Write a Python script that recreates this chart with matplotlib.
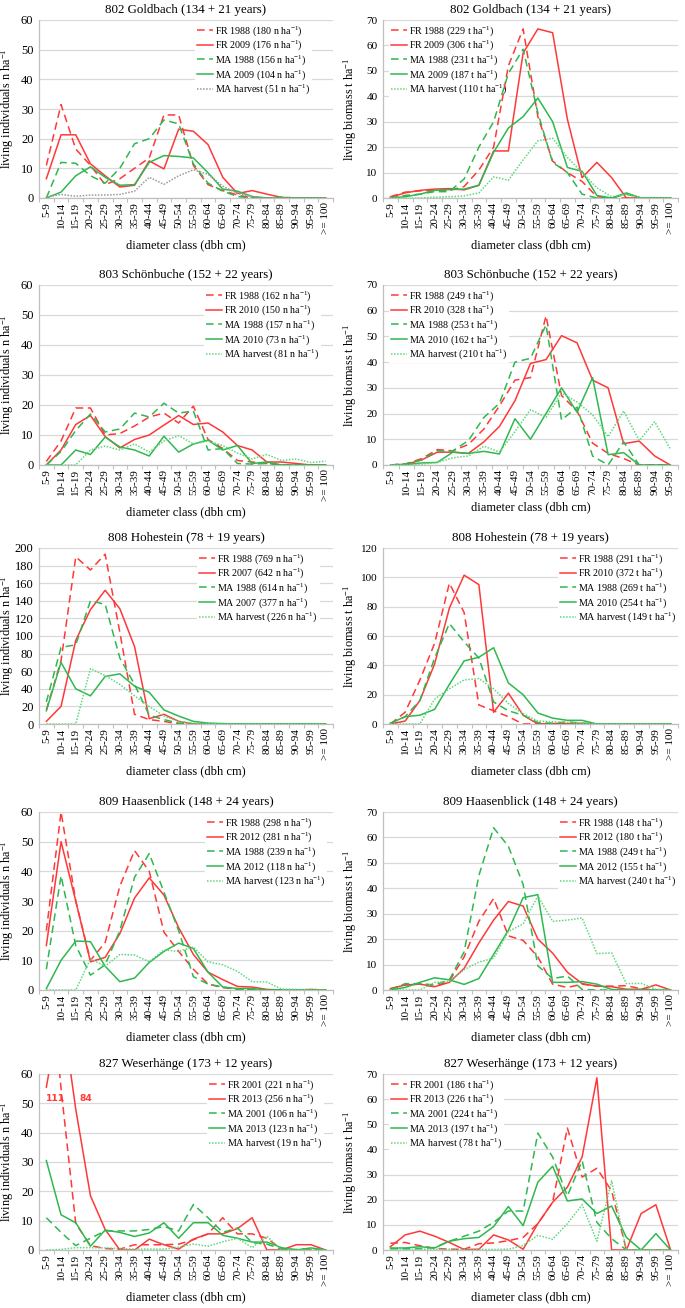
import matplotlib
matplotlib.use("Agg")
import matplotlib.pyplot as plt
import numpy as np

plt.rcParams['font.family'] = ['Liberation Serif', 'DejaVu Serif']
plt.rcParams['mathtext.default'] = 'regular'

classes = ["5-9", "10-14", "15-19", "20-24", "25-29", "30-34", "35-39", "40-44", "45-49",
           "50-54", "55-59", "60-64", "65-69", "70-74", "75-79", "80-84", "85-89", "90-94",
           "95-99", ">= 100"]
classes_803b = classes[:19]

# ---- 802 Goldbach ----
gb_n_fr_a = [11, 31.5, 16.5, 11, 4.5, 6.5, 10, 13.5, 28, 28, 11, 4.5, 2.5, 1, 0, 0, 0, 0, 0, 0]
gb_n_fr_b = [6.5, 21.3, 21.3, 11.5, 7.5, 3.7, 4.3, 12.5, 9.8, 23.2, 22.5, 18, 7, 1.5, 2.5, 1.3, 0.2, 0, 0, 0]
gb_n_ma_a = [0, 12, 11.7, 7.5, 5, 10, 18.3, 20, 26.3, 25, 11.5, 5, 2.3, 0.5, 0, 0, 0.3, 0, 0, 0]
gb_n_ma_b = [0, 2, 7.5, 10.5, 7, 4.3, 4.5, 12, 14.3, 14, 13.5, 8.5, 3, 2.3, 0.5, 0, 0, 0, 0, 0]
gb_n_ma_h = [0.3, 1.2, 0.6, 1, 1, 1.2, 2.3, 7, 4.6, 7.5, 9.5, 8, 4, 1.5, 0.5, 0, 0, 0, 0, 0]

gb_b_fr_a = [0.5, 2.3, 2.8, 3, 3, 4.5, 11, 20, 52, 66.5, 32, 14.5, 10, 6.5, 0.5, 0, 0, 0, 0, 0]
gb_b_fr_b = [0.3, 2, 3, 3.5, 3.7, 3.2, 5, 18.5, 18.5, 57, 66.5, 65, 31, 8, 14, 8, 0, 0, 0, 0]
gb_b_ma_a = [0, 1, 1.5, 2.5, 2.5, 7.5, 20, 30, 49, 58.5, 33.5, 14, 10, 1.5, 0, 0, 1.5, 0, 0, 0]
gb_b_ma_b = [0, 0.5, 1.5, 3, 3.3, 3.5, 5, 18, 27.5, 32, 39.3, 30, 12, 10.5, 1, 0, 2, 0, 0, 0]
gb_b_ma_h = [0, 0, 0, 0.3, 0.5, 0.8, 2, 8.3, 7, 15, 22.5, 23.5, 16, 10, 4, 0.5, 1.5, 0, 0, 0]

# ---- 803 Schönbuche ----
sb_n_fr_a = [1.2, 8, 19, 19, 10, 10.5, 13, 16, 17.3, 14, 19.6, 8.5, 5.5, 1.5, 1, 0.5, 0, 0, 0, 0]
sb_n_fr_b = [0, 5, 13.5, 16.5, 9.5, 5.7, 8.5, 10, 13.3, 16.5, 13.5, 14, 11, 6.5, 5, 1, 1, 0.5, 0, 0]
sb_n_ma_a = [0, 4.5, 11.5, 17, 11, 12, 17.3, 16, 20.6, 17.3, 18, 5, 5.5, 0.5, 0.3, 0.5, 0, 0, 0, 0]
sb_n_ma_b = [0, 0, 5, 3.5, 9.3, 6, 5, 3, 9.6, 4.3, 7, 8.3, 5, 6.5, 0.5, 1, 0, 0, 0, 0]
sb_n_ma_h = [0, 0, 0, 5, 6.3, 5, 7, 4.3, 8, 9.8, 7, 8, 6.5, 4, 2, 3.5, 1.5, 2, 0.8, 1.3]

sb_b_fr_a = [0, 0.5, 2.5, 6, 5.5, 8, 14, 23, 33, 34, 58, 27, 21, 8.5, 4.5, 2.5, 0, 0, 0]
sb_b_fr_b = [0, 0.3, 2, 5, 5, 4.5, 9, 15, 25, 39.5, 41, 50.3, 47.5, 33, 30, 8.3, 9.3, 3.5, 0]
sb_b_ma_a = [0, 0.5, 2, 5.5, 5.5, 9.5, 18.5, 24, 40, 41.5, 54.5, 17.5, 22.5, 3.5, 0, 9, 0, 0, 0]
sb_b_ma_b = [0, 0.2, 0.8, 1, 5, 4.5, 5.3, 4.3, 18, 10, 20, 30, 20.5, 34, 4, 4.8, 0, 0, 0]
sb_b_ma_h = [0, 0, 0.3, 1, 2.8, 3.5, 7.3, 5, 13, 21.5, 18.5, 28, 24.5, 19.5, 11, 21, 9.5, 16.8, 6.3]

# ---- 808 Hohestein ----
hs_n_fr_a = [16, 72, 190, 175, 193, 104, 11, 5, 3, 0, 0, 0, 0, 0, 0, 0, 0, 0, 0, 0]
hs_n_fr_b = [3, 20, 95, 130, 152, 131, 88, 6, 11, 3, 0, 0, 0, 0, 0, 0, 0, 0, 0, 0]
hs_n_ma_a = [25, 87, 90, 140, 136, 75, 45, 10, 5, 1, 0, 0, 0, 0, 0, 0, 0, 0, 0, 0]
hs_n_ma_b = [15, 70, 40, 32, 54, 57, 43, 36, 16, 9, 3, 1, 0.5, 0, 0, 0, 0, 0, 0, 0]
hs_n_ma_h = [0, 0, 0, 63, 55, 45, 32, 20, 9, 3, 1, 0.5, 0, 0, 0, 0, 0, 0, 0, 0]

hs_b_fr_a = [0, 8, 30, 55, 96, 76, 13, 9, 5, 0, 0, 0, 0, 0, 0, 0, 0, 0, 0, 0]
hs_b_fr_b = [0, 2, 16, 41, 79, 101.5, 95, 8, 21, 6, 0, 0.3, 0.2, 0.5, 0, 0, 0, 0, 0, 0]
hs_b_ma_a = [0.5, 5, 16, 45, 68.5, 56, 45, 15, 9, 6, 1, 0.5, 1.5, 0.5, 0, 0, 0, 0, 0, 0]
hs_b_ma_b = [0.5, 5, 6, 10, 27, 43, 45.5, 52, 28, 20, 7.5, 4, 2.5, 2.5, 0, 0, 0, 0, 0, 0]
hs_b_ma_h = [0, 0, 0, 17, 24, 30, 31, 24, 14, 7, 2, 1.5, 1, 0.5, 0, 0, 0, 0, 0, 0]

# ---- 809 Haasenblick ----
hb_n_fr_a = [20, 60, 30, 10, 16, 35, 47, 40, 19.5, 13, 7, 2, 0.8, 0.3, 0, 0, 0, 0, 0, 0]
hb_n_fr_b = [15, 50, 30, 9.5, 11, 19, 31, 37.8, 32, 21, 12, 6, 3.5, 1.2, 1, 0.2, 0, 0, 0.2, 0]
hb_n_ma_a = [7, 38.5, 15, 5, 8.5, 20, 38, 46, 33, 20, 4.5, 2, 1, 0.3, 0, 0, 0, 0, 0, 0]
hb_n_ma_b = [0.5, 10, 16.5, 16.3, 8, 2.8, 4, 9.3, 13, 15.8, 14, 6, 1, 0.5, 0.5, 0, 0, 0, 0, 0]
hb_n_ma_h = [0, 0, 0, 10.5, 8, 12, 11.8, 9.5, 13.5, 13, 14.5, 9.5, 8.5, 6.3, 2.8, 2.7, 0.3, 0.2, 0, 0]

hb_b_fr_a = [0.5, 2, 2.3, 1.3, 3.5, 13, 27, 36, 21.3, 19.5, 13, 2.3, 1, 2.3, 1.5, 1.5, 1.7, 0.5, 0, 0]
hb_b_fr_b = [0.5, 2, 2.3, 1.3, 3, 8.5, 18.5, 27.5, 34.8, 33, 20, 14.5, 7, 2.5, 1.5, 1.3, 0.3, 0.3, 2, 0]
hb_b_ma_a = [0, 2.5, 2.5, 2, 4, 15, 45, 63.8, 56.5, 41.5, 9.5, 4.5, 5.5, 0.2, 0, 0, 0, 0, 0, 0]
hb_b_ma_b = [0, 1, 3, 4.8, 4, 2.2, 4.5, 14, 23.5, 36.3, 37.5, 3, 3, 3.3, 2.3, 0.2, 0, 0, 0, 0]
hb_b_ma_h = [0, 0, 0, 3, 3.3, 8, 11, 12.5, 23, 26, 37, 27, 27.5, 28.3, 14.3, 14.6, 2.5, 2.6, 0.3, 0]

# ---- 827 Weserhänge ----
wh_n_fr_a = [111, 55, 9, 1.5, 0.5, 0.3, 1.8, 1.8, 1.8, 2, 3.5, 5.5, 11, 5.5, 5.5, 4, 0.3, 0, 0, 0]
wh_n_fr_b = [55.5, 84, 48, 18.5, 7, 0, 0, 3.7, 1.8, 0.3, 3.7, 5.5, 5.5, 7.3, 11, 0, 0, 1.8, 1.8, 0]
wh_n_ma_a = [11, 6, 1.5, 4, 6.5, 6.5, 6.5, 7, 8, 6.5, 15.5, 11, 6, 7.5, 2.5, 2, 0.3, 0.2, 0.5, 0]
wh_n_ma_b = [30.5, 12, 9.3, 1.3, 6.8, 6, 4.6, 5.8, 9.3, 4, 9.3, 9.3, 5, 4, 2.7, 2.7, 0.8, 0, 0.7, 0]
wh_n_ma_h = [0, 0.2, 0.8, 0.8, 0.7, 0.5, 0.3, 0.3, 0.3, 1, 2, 1.3, 2.8, 4, 0.8, 4.7, 0, 0, 0, 0]

wh_b_fr_a = [2.7, 3, 1.7, 0.7, 0.3, 0.3, 2.5, 2.8, 3.7, 5, 10.5, 19, 48.5, 29, 32.5, 23.5, 0, 0, 0, 0]
wh_b_fr_b = [1.3, 6, 7.5, 5.5, 3, 0.2, 0.3, 6, 4, 0.3, 10.5, 19, 25, 37, 68.5, 0, 0, 14.5, 18, 0]
wh_b_ma_a = [0.5, 0.5, 0.5, 1, 3.5, 5.5, 7.5, 11, 15.5, 15.5, 46.5, 37, 21.5, 35.5, 11, 4.5, 0, 0, 0, 0]
wh_b_ma_b = [0.8, 0.8, 1.3, 0.8, 3.5, 4.5, 5, 9.3, 17.3, 9.7, 27, 33.3, 19.5, 20.3, 14.5, 17.5, 5, 0, 6.5, 0]
wh_b_ma_h = [0, 0, 0.3, 0.3, 0.3, 0.2, 0.2, 0.2, 0.3, 1.8, 5.8, 4.3, 10.5, 18, 3.5, 27.5, 0, 0, 0, 0]

RED = '#ff3838'
GREEN = '#2fb84f'
LGREEN = '#5fd87c'
GREY = '#9a9a9a'

W, H = 685, 1308
fig = plt.figure(figsize=(W / 100, H / 100), dpi=100)

LX = (39, 333)
RX = (383, 678)
rows = [(20, 198), (285, 465), (548, 724), (812, 990), (1074, 1250)]


def add_ax(x0, x1, top, bot):
    return fig.add_axes([x0 / W, 1 - bot / H, (x1 - x0) / W, (bot - top) / H])


def panel(ax, cats, series, labels, ymax, ystep, title, ylabel, legpos, hcol, ytick_fs, ylab_x):
    x = np.arange(len(cats))
    styles = [(RED, (5, 3)), (RED, None), (GREEN, (5, 3)), (GREEN, None), (hcol, (1, 1))]
    for vals, lab, (c, d) in zip(series, labels, styles):
        ln, = ax.plot(x, vals, color=c, lw=1.1, label=lab, zorder=3)
        if d is not None:
            ln.set_dashes(d)
    ax.set_xlim(-0.5, len(cats) - 0.5)
    ax.set_ylim(0, ymax)
    ax.set_yticks(np.arange(0, ymax + 0.1, ystep))
    ax.set_xticks(x)
    ax.set_xticklabels(cats, rotation=90, fontsize=8)
    ax.set_xticks(np.arange(-0.5, len(cats), 1), minor=True)
    ax.tick_params(axis='x', which='major', length=0, pad=3)
    ax.tick_params(axis='x', which='minor', length=3, color='#bfbfbf', width=0.8)
    ax.tick_params(axis='y', length=0, labelsize=ytick_fs, pad=4)
    ax.grid(axis='y', color='#d9d9d9', lw=0.9)
    ax.set_axisbelow(True)
    for s in ['top', 'right']:
        ax.spines[s].set_visible(False)
    for s in ['left', 'bottom']:
        ax.spines[s].set_color('#bfbfbf')
        ax.spines[s].set_linewidth(0.9)
    ax.set_title(title, fontsize=9.3, pad=5)
    ax.set_ylabel(ylabel, fontsize=8.8)
    ax.yaxis.set_label_coords(ylab_x, 0.5)
    ax.set_xlabel('diameter class (dbh cm)', fontsize=9, labelpad=4)
    loc, anchor = legpos
    leg = ax.legend(loc=loc, bbox_to_anchor=anchor, fontsize=7.2, frameon=True, framealpha=1,
                    edgecolor='none', facecolor='white', handlelength=1.6, handletextpad=0.2,
                    labelspacing=0.08, borderaxespad=0.0, borderpad=0.2, fancybox=False)
    leg.set_zorder(1)
    return ax


yl_n = 'living individuals n ha$^{-1}$'
yl_b = 'living biomass t ha$^{-1}$'
R_UL = ('upper left', (0.02, 0.99))
R_UR = ('upper right', (1.0, 0.99))
LYX = -0.078
RYX = -0.08


def labs(kind, years, totals):
    u = ' n' if kind == 'n' else ' t'
    names = ['FR ' + years[0], 'FR ' + years[1], 'MA ' + years[0], 'MA ' + years[1], 'MA harvest']
    return [f'{nm} ({t}{u} ha$^{{-1}}$)' for nm, t in zip(names, totals)]


# Row 1
ax = add_ax(*LX, *rows[0])
panel(ax, classes, [gb_n_fr_a, gb_n_fr_b, gb_n_ma_a, gb_n_ma_b, gb_n_ma_h],
      labs('n', ['1988', '2009'], [180, 176, 156, 104, 51]), 60, 10,
      '802 Goldbach (134 + 21 years)', yl_n, ('upper right', (0.93, 0.99)), GREY, 9, LYX)
ax = add_ax(*RX, *rows[0])
panel(ax, classes, [gb_b_fr_a, gb_b_fr_b, gb_b_ma_a, gb_b_ma_b, gb_b_ma_h],
      labs('b', ['1988', '2009'], [229, 306, 231, 187, 110]), 70, 10,
      '802 Goldbach (134 + 21 years)', yl_b, R_UL, LGREEN, 8, RYX)

# Row 2
ax = add_ax(*LX, *rows[1])
panel(ax, classes, [sb_n_fr_a, sb_n_fr_b, sb_n_ma_a, sb_n_ma_b, sb_n_ma_h],
      labs('n', ['1988', '2010'], [162, 150, 157, 73, 81]), 60, 10,
      '803 Schönbuche (152 + 22 years)', yl_n, ('upper right', (0.96, 0.99)), LGREEN, 9, LYX)
ax = add_ax(*RX, *rows[1])
panel(ax, classes_803b, [sb_b_fr_a, sb_b_fr_b, sb_b_ma_a, sb_b_ma_b, sb_b_ma_h],
      labs('b', ['1988', '2010'], [249, 328, 253, 162, 210]), 70, 10,
      '803 Schönbuche (152 + 22 years)', yl_b, R_UL, LGREEN, 8, RYX)

# Row 3
ax = add_ax(*LX, *rows[2])
panel(ax, classes, [hs_n_fr_a, hs_n_fr_b, hs_n_ma_a, hs_n_ma_b, hs_n_ma_h],
      labs('n', ['1988', '2007'], [769, 642, 614, 377, 226]), 200, 20,
      '808 Hohestein (78 + 19 years)', yl_n, ('upper right', (0.955, 0.99)), LGREEN, 9, LYX)
ax = add_ax(*RX, *rows[2])
panel(ax, classes, [hs_b_fr_a, hs_b_fr_b, hs_b_ma_a, hs_b_ma_b, hs_b_ma_h],
      labs('b', ['1988', '2010'], [291, 372, 269, 254, 149]), 120, 20,
      '808 Hohestein (78 + 19 years)', yl_b, R_UR, LGREEN, 8, RYX)

# Row 4
ax = add_ax(*LX, *rows[3])
panel(ax, classes, [hb_n_fr_a, hb_n_fr_b, hb_n_ma_a, hb_n_ma_b, hb_n_ma_h],
      labs('n', ['1988', '2012'], [298, 281, 239, 118, 123]), 60, 10,
      '809 Haasenblick (148 + 24 years)', yl_n, ('upper right', (0.98, 0.99)), LGREEN, 9, LYX)
ax = add_ax(*RX, *rows[3])
panel(ax, classes, [hb_b_fr_a, hb_b_fr_b, hb_b_ma_a, hb_b_ma_b, hb_b_ma_h],
      labs('b', ['1988', '2012'], [148, 180, 249, 155, 240]), 70, 10,
      '809 Haasenblick (148 + 24 years)', yl_b, R_UR, LGREEN, 8, RYX)

# Row 5
ax = add_ax(*LX, *rows[4])
panel(ax, classes, [wh_n_fr_a, wh_n_fr_b, wh_n_ma_a, wh_n_ma_b, wh_n_ma_h],
      labs('n', ['2001', '2013'], [221, 256, 106, 123, 19]), 60, 10,
      '827 Weserhänge (173 + 12 years)', yl_n, ('upper right', (0.97, 0.99)), LGREEN, 9, LYX)
ax.text(0.6, 51.5, '111', color=RED, fontsize=6.6, fontweight='bold',
        family=['DejaVu Sans'], ha='center', va='center')
ax.text(2.7, 51.5, '84', color=RED, fontsize=6.6, fontweight='bold',
        family=['DejaVu Sans'], ha='center', va='center')
ax = add_ax(*RX, *rows[4])
panel(ax, classes, [wh_b_fr_a, wh_b_fr_b, wh_b_ma_a, wh_b_ma_b, wh_b_ma_h],
      labs('b', ['2001', '2013'], [186, 226, 224, 197, 78]), 70, 10,
      '827 Weserhänge (173 + 12 years)', yl_b, R_UL, LGREEN, 8, RYX)

fig.savefig('out.png', dpi=100)
